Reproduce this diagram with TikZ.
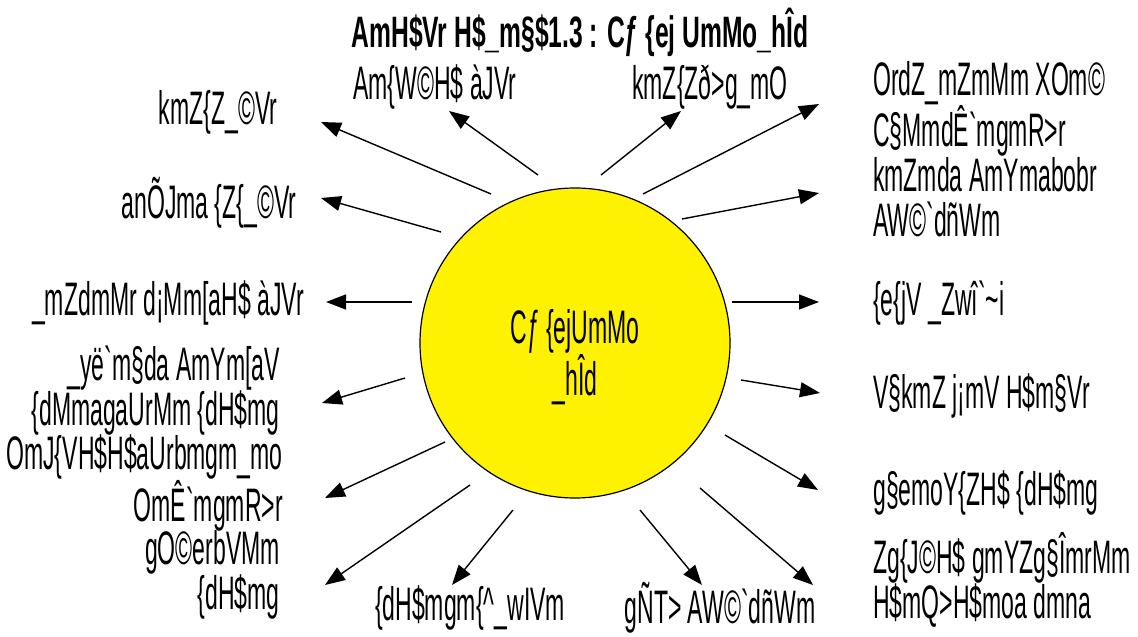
\documentclass[tikz,border=0pt]{standalone}
\usepackage{fontspec}
\newfontfamily\lf[FakeStretch=0.49]{Liberation Sans}
\newfontfamily\tf[FakeStretch=0.56]{Liberation Sans}
\usetikzlibrary{arrows.meta}
\tikzset{
  lbl/.style={font=\lf\fontsize{47}{45}\selectfont, inner sep=0pt, text depth=0pt},
  ttl/.style={font=\tf\bfseries\fontsize{44}{45}\selectfont, inner sep=0pt},
  arr/.style={line width=1.4pt, -{Triangle[length=20pt,width=15pt]}},
  sun/.style={circle, draw=black, line width=1.2pt, fill=yellow, minimum size=310pt, inner sep=0pt}
}
\begin{document}
\begin{tikzpicture}[x=1pt,y=-1pt]
\useasboundingbox (0,0) rectangle (1138,637);
\node[ttl] (title) at (580,32) {AmH\$Vr H\$\_m§\$1.3 : Cƒ \{ej UmMo\_hÎd};
\node[sun] (c) at (575,343) {};
\node[lbl, align=center] (ct) at (575,352) {Cƒ \{ejUmMo\\\_hÎd};
% labels
\node[lbl] (n1) at (435,82) {Am\{W©H\$ àJVr};
\node[lbl] (n2) at (710,82) {kmZ\{Zð>g\_mO};
\node[lbl, align=left, anchor=west] (n3) at (873,104) {OrdZ\_mZmMm XOm©\\C§MmdÊ`mgmR>r};
\node[lbl, align=left, anchor=west] (n4) at (873,197) {kmZmda AmYmabobr\\AW©`dñWm};
\node[lbl] (n5) at (218,107) {kmZ\{Z\_©Vr};
\node[lbl] (n6) at (209,198) {anÕJma \{Z\{\_©Vr};
\node[lbl] (n7) at (168,298) {\_mZdmMr d¡Mm[aH\$ àJVr};
\node[lbl, anchor=west] (n8) at (873,298) {\{e\{jV \_Zwî`\textasciitilde i};
\node[lbl, align=right, anchor=east] (n9) at (280,386) {\_yë`m§da AmYm[aV\\\{dMmagaUrMm \{dH\$mg};
\node[lbl, align=right, anchor=east] (n10) at (283,478) {OmJ\{VH\$H\$aUrbmgm\_mo\\OmÊ`mgmR>r};
\node[lbl, align=right, anchor=east] (n11) at (280,570) {gO©erbVMm\\\{dH\$mg};
\node[lbl, anchor=west] (n12) at (873,391) {V§kmZ j¡mV H\$m§Vr};
\node[lbl, anchor=west] (n13) at (873,488) {g§emoY\{ZH\$ \{dH\$mg};
\node[lbl, align=left, anchor=west] (n14) at (873,575) {Zg\{J©H\$ gmYZg§ÎmrMm\\H\$mQ>H\$moa dmna};
\node[lbl] (n15) at (470,603) {\{dH\$mgm\{\textasciicircum\_wIVm};
\node[lbl] (n16) at (720,603) {gÑT> AW©`dñWm};
% arrow ends
\foreach \i/\ax/\ay/\bx/\by in {1/491/194/321/122, 2/538/175/449/111, 3/601/175/681/111,
  4/643/194/819/104, 5/441/232/321/198, 6/682/219/819/193, 7/412/302/326/302,
  8/732/302/819/302, 9/405/378/322/403, 10/445/442/325/498, 11/470/485/325/585,
  12/513/510/452/585, 13/640/510/702/585, 14/700/488/813/585, 15/741/380/820/393,
  16/725/435/818/490}{
  \coordinate (t\i) at (\ax,\ay);
  \coordinate (h\i) at (\bx,\by);
  \draw[arr] (t\i) -- (h\i);
}
\end{tikzpicture}
\end{document}
